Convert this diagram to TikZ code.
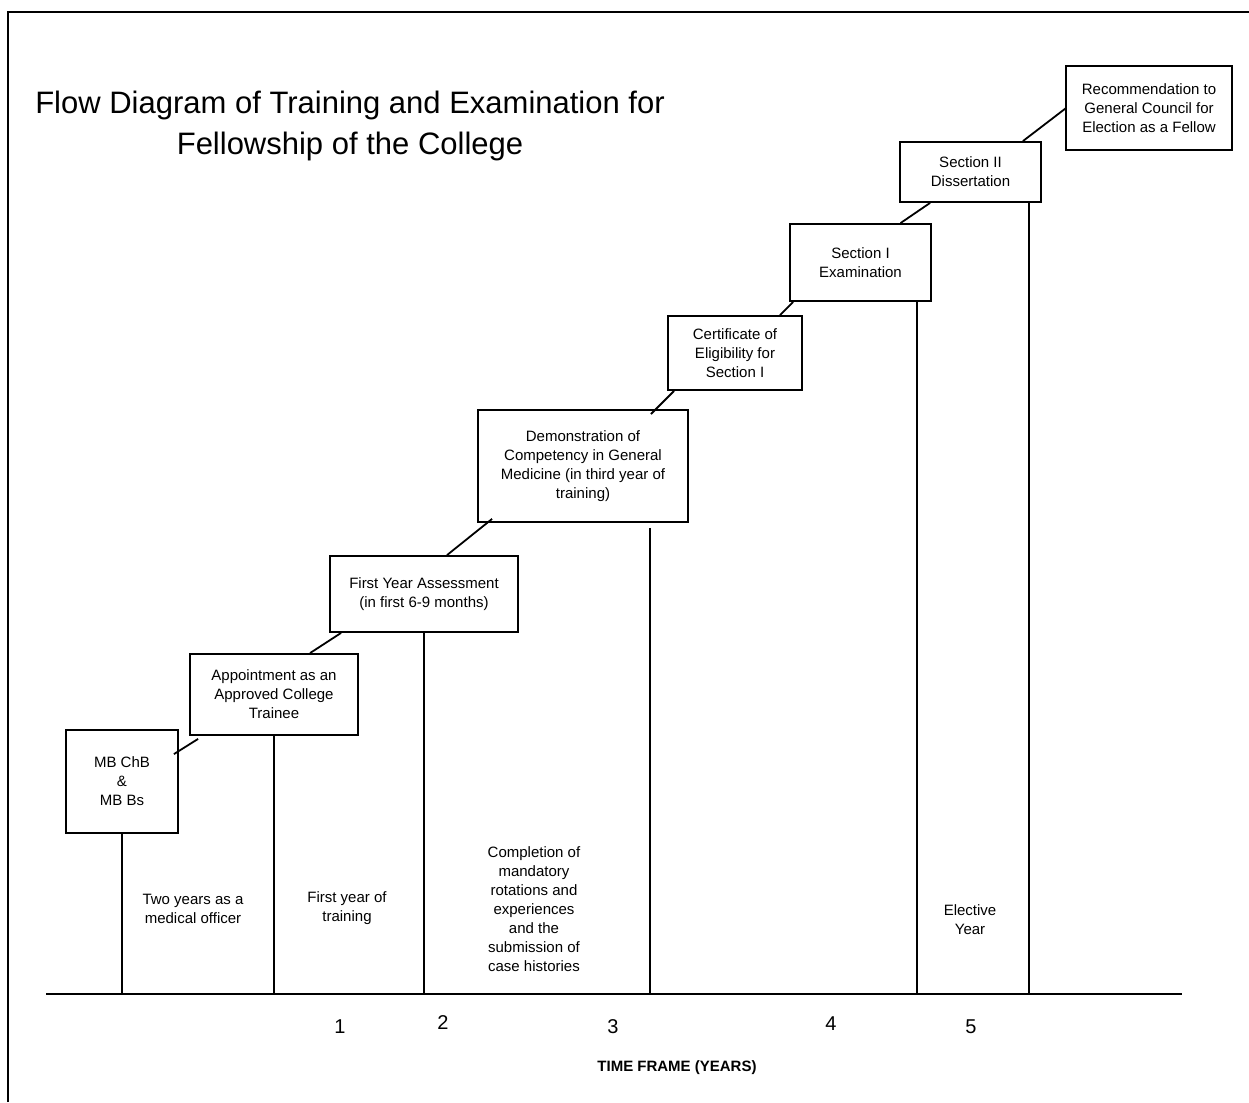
\documentclass[tikz,border=0pt]{standalone}
\usepackage{fontspec}
\setmainfont{Liberation Sans}
\begin{document}
\begin{tikzpicture}[x=1pt,y=-1pt,
  stagebox/.style={draw,line width=1.8pt,inner sep=0pt,align=center,
    font=\fontsize{15}{19}\selectfont},
  link/.style={line width=1.8pt},
  lbl/.style={inner sep=0pt,align=center,font=\fontsize{15}{19}\selectfont},
  yearnum/.style={inner sep=0pt,font=\fontsize{20}{24}\selectfont}]
\useasboundingbox (0,0) rectangle (1249,1102);
% frame
\draw[line width=1.5pt] (8,1102) -- (8,12) -- (1249,12);
% title
\node[inner sep=0pt,align=center,font=\fontsize{31}{41}\selectfont] (title) at (350,125.5)
  {Flow Diagram of Training and Examination for\\Fellowship of the College};
% boxes
\node[stagebox,minimum width=112pt,minimum height=103pt] (mb) at (122,781.5) {MB ChB\\\&\\MB Bs};
\node[stagebox,minimum width=168pt,minimum height=81pt] (app) at (274,694.5) {Appointment as an\\Approved College\\Trainee};
\node[stagebox,minimum width=188pt,minimum height=76pt] (fy) at (424,594) {First Year Assessment\\(in first 6-9 months)};
\node[stagebox,minimum width=210pt,minimum height=112pt] (demo) at (583,466) {Demonstration of\\Competency in General\\Medicine (in third year of\\training)};
\node[stagebox,minimum width=134pt,minimum height=74pt] (cert) at (735,353) {Certificate of\\Eligibility for\\Section I};
\node[stagebox,minimum width=141pt,minimum height=77pt] (secI) at (860.5,262.5) {Section I\\Examination};
\node[stagebox,minimum width=141pt,minimum height=60pt] (secII) at (970.5,172) {Section II\\Dissertation};
\node[stagebox,minimum width=166pt,minimum height=84pt] (rec) at (1149,108) {Recommendation to\\General Council for\\Election as a Fellow};
% diagonal links
\draw[link] ([shift={(-5,25)}]mb.north east) -- ([shift={(9,3)}]app.south west);
\draw[link] ([xshift=36]app.north) -- ([xshift=12]fy.south west);
\draw[link] ([xshift=23]fy.north) -- ([shift={(15,-4)}]demo.south west);
\draw[link] ([shift={(-38,5)}]demo.north east) -- ([xshift=7]cert.south west);
\draw[link] ([xshift=45]cert.north) -- ([xshift=4]secI.south west);
\draw[link] ([xshift=40]secI.north) -- ([xshift=31]secII.south west);
\draw[link] ([xshift=-19]secII.north east) -- ([xshift=1]rec.west);
% time axis
\coordinate (axL) at (46,994);
\coordinate (axR) at (1182,994);
\draw[line width=2.6pt] (axL) -- (axR);
% drop start points
\coordinate (demoDrop) at ([shift={(67,5)}]demo.south);
\coordinate (secIDrop) at ([xshift=-15]secI.south east);
\coordinate (secIIDrop) at ([xshift=-13]secII.south east);
% vertical drops
\draw[link] (mb.south) -- (mb.south |- axL);
\draw[link] (app.south) -- (app.south |- axL);
\draw[link] (fy.south) -- (fy.south |- axL);
\draw[link] (demoDrop) -- (demoDrop |- axL);
\draw[link] (secIDrop) -- (secIDrop |- axL);
\draw[link] (secIIDrop) -- (secIIDrop |- axL);
% period labels
\node[lbl] (p1) at (193,908.5) {Two years as a\\medical officer};
\node[lbl] (p2) at (347,908.5) {First year of\\training};
\node[lbl] (p3) at (534,909) {Completion of\\mandatory\\rotations and\\experiences\\and the\\submission of\\case histories};
\node[lbl] (p5) at (970,920) {Elective\\Year};
% year numbers
\node[yearnum] (y1) at (340,1027) {1};
\node[yearnum] (y2) at (443,1023) {2};
\node[yearnum] (y3) at (613,1027) {3};
\node[yearnum] (y4) at (831,1024) {4};
\node[yearnum] (y5) at (971,1027) {5};
\node[inner sep=0pt,font=\fontsize{15}{18}\selectfont\bfseries] (tf) at (677,1068) {TIME FRAME (YEARS)};
\end{tikzpicture}
\end{document}
